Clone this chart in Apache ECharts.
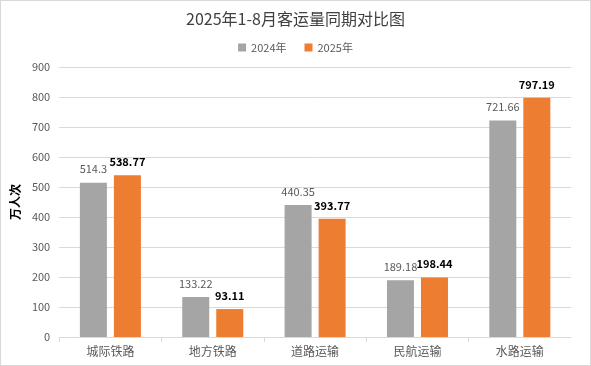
<!DOCTYPE html>
<html><head><meta charset="utf-8">
<script src="https://cdn.jsdelivr.net/npm/echarts@6/dist/echarts.min.js"></script>
<style>html,body{margin:0;padding:0;background:#fff}#c{width:589px;height:364px;border:1px solid #d9d9d9;}</style>
</head><body><div id="c"></div>
<script>
const categories = ['城际铁路','地方铁路','道路运输','民航运输','水路运输'];
const values2024 = [514.3, 133.22, 440.35, 189.18, 721.66];
const values2025 = [538.77, 93.11, 393.77, 198.44, 797.19];
const yTicks = {min:0, max:900, interval:100};
const font = 'Microsoft YaHei, "Noto Sans CJK SC", sans-serif';
const chart = echarts.init(document.getElementById('c'));
chart.setOption({
  animation:false,
  title:{text:'2025年1-8月客运量同期对比图', left:'center', top:5,
    textStyle:{fontSize:16, fontWeight:'normal', color:'#404040', fontFamily:font}},
  legend:{top:36, left:'center', itemWidth:8, itemHeight:8, itemGap:18, icon:'rect',
    textStyle:{fontSize:11, color:'#595959', fontFamily:font}},
  grid:{left:57, right:19, top:66, bottom:28},
  xAxis:{type:'category', data:categories,
    axisLine:{lineStyle:{color:'#d9d9d9'}},
    axisTick:{show:true, length:5, lineStyle:{color:'#d9d9d9'}},
    axisLabel:{fontSize:12, color:'#595959', fontFamily:font, margin:8}},
  yAxis:{type:'value', min:yTicks.min, max:yTicks.max, interval:yTicks.interval,
    name:'万人次', nameLocation:'middle', nameGap:32, nameRotate:90,
    nameTextStyle:{fontSize:12, fontWeight:'bold', color:'#000', fontFamily:font},
    axisLine:{show:false}, axisTick:{show:false},
    axisLabel:{fontSize:11, color:'#595959', fontFamily:font, margin:9},
    splitLine:{lineStyle:{color:'#d9d9d9'}}},
  series:[
    {name:'2024年', type:'bar', data:values2024, barWidth:27, barGap:'26%',
     itemStyle:{color:'#a5a5a5'},
     label:{show:true, position:'top', distance:8, fontSize:11, color:'#595959', fontFamily:font}},
    {name:'2025年', type:'bar', data:values2025, barWidth:27,
     itemStyle:{color:'#ed7d31'},
     label:{show:true, position:'top', distance:8, fontSize:11, fontWeight:'bold', color:'#000', fontFamily:font}}
  ]
});
</script></body></html>
